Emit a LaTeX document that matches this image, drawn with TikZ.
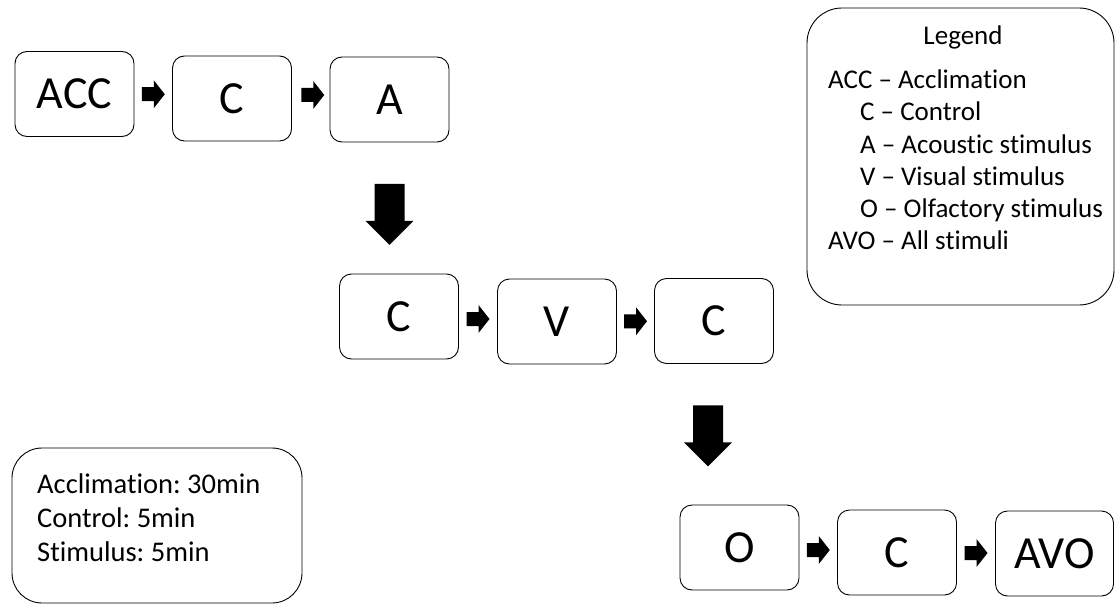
\documentclass[tikz,border=0pt]{standalone}
\usepackage{fontspec}
\setmainfont{Carlito}[Ligatures={NoCommon}]
\usetikzlibrary{calc}
\frenchspacing
\begin{document}
\begin{tikzpicture}[x=1pt,y=-1pt,
  stage/.style={draw, line width=0.9pt, rounded corners=12pt, minimum width=119pt, minimum height=85pt, inner sep=0pt, font=\fontsize{46}{50}\selectfont},
  bigbox/.style={draw, line width=0.9pt, inner sep=0pt},
  legtext/.style={anchor=base west, inner sep=0pt, font=\fontsize{27}{32}\selectfont},
  durtext/.style={anchor=base west, inner sep=0pt, font=\fontsize{28.5}{34}\selectfont},
  smallarrow/.pic={\fill (-11.5,-7) -- (0.5,-7) -- (0.5,-14) -- (11.5,0) -- (0.5,14) -- (0.5,7) -- (-11.5,7) -- cycle;},
  bigarrow/.pic={\fill (-15,-30.5) -- (15,-30.5) -- (15,6.5) -- (24,6.5) -- (0,30.5) -- (-24,6.5) -- (-15,6.5) -- cycle;}
]
\useasboundingbox (0,0) rectangle (1115,607);

% row 1
\node[stage] (acc) at (74.5,94) {ACC};
\node[stage] (c1) at (232,98.5) {C};
\node[stage] (a1) at (389.5,99.5) {A};
% row 2
\node[stage] (c2) at (399,316.5) {C};
\node[stage] (v) at (557,321.5) {V};
\node[stage] (c3) at (714,321) {C};
% row 3
\node[stage] (o) at (739.5,547.5) {O};
\node[stage] (c4) at (897,552.5) {C};
\node[stage, minimum width=118pt] (avo) at (1054.5,553.5) {AVO};

% small arrows
\pic at ($($(acc.east)!0.5!(c1.west)$)+(0,-2)$) {smallarrow};
\pic at ($($(c1.east)!0.5!(a1.west)$)+(2,-4)$) {smallarrow};
\pic at ($(c2.east)!0.5!(v.west)$) {smallarrow};
\pic at ($(v.east)!0.5!(c3.west)$) {smallarrow};
\pic at ($(o.east)!0.5!(c4.west)$) {smallarrow};
\pic at ($(c4.east)!0.5!(avo.west)$) {smallarrow};

% big arrows
\pic at ($(a1.south)+(0,72)$) {bigarrow};
\pic at ($(c3.south)+(-6,72)$) {bigarrow};

% legend
\node[bigbox, rounded corners=35pt, minimum width=307pt, minimum height=297pt] (legend) at (960.5,156.5) {};
\node[anchor=base, inner sep=0pt, font=\fontsize{27}{32}\selectfont] (legtitle) at (963,45) {Legend};
\node[legtext] (l1) at (828,89) {ACC – Acclimation};
\node[legtext] (l2) at (860,121) {C – Control};
\node[legtext] (l3) at (860,153) {A – Acoustic stimulus};
\node[legtext] (l4) at (860,185) {V – Visual stimulus};
\node[legtext] (l5) at (860,217) {O – Olfactory stimulus};
\node[legtext] (l6) at (828,249) {AVO – All stimuli};

% durations
\node[bigbox, rounded corners=30pt, minimum width=290pt, minimum height=155pt] (dur) at (157,525.5) {};
\node[durtext] (d1) at (37,493) {Acclimation: 30min};
\node[durtext] (d2) at (37,527) {Control: 5min};
\node[durtext] (d3) at (37,561) {Stimulus: 5min};
\end{tikzpicture}
\end{document}
